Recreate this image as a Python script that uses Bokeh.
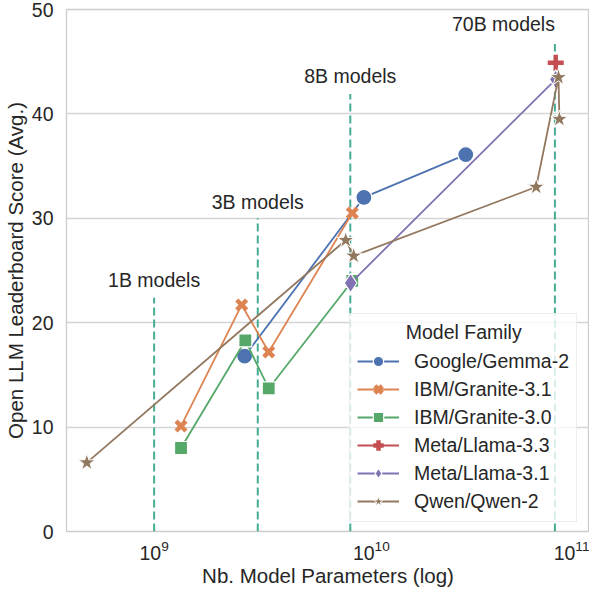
from bokeh.plotting import figure
from bokeh.models import Legend, LegendItem, Range1d, FixedTicker, Label
from bokeh.embed import file_html
from bokeh.resources import INLINE

FONT = "Liberation Sans"
TXT = "#262626"

# ---- data ----
families = ["Google/Gemma-2", "IBM/Granite-3.1", "IBM/Granite-3.0",
            "Meta/Llama-3.3", "Meta/Llama-3.1", "Qwen/Qwen-2"]

gemma_params = [2.61e9, 9.24e9, 2.72e10]
gemma_score = [16.8, 32.0, 36.1]

granite31_params = [1.33e9, 2.53e9, 3.37e9, 8.17e9]
granite31_score = [10.1, 21.7, 17.2, 30.5]

granite30_params = [1.33e9, 2.63e9, 3.37e9, 8.17e9]
granite30_score = [8.0, 18.3, 13.7, 24.0]

llama33_params = [7.06e10]
llama33_score = [44.9]

llama31_params = [8.03e9, 7.06e10]
llama31_score = [23.8, 43.3]

qwen_params = [4.9e8, 7.62e9, 8.29e9, 5.74e10, 7.27e10, 7.34e10]
qwen_score = [6.6, 27.9, 26.4, 33.0, 43.5, 39.5]

size_lines = [1e9, 3e9, 8e9, 7e10]
size_line_tops = [22.4, 30.0, 41.9, 46.7]
size_labels = ["1B models", "3B models", "8B models", "70B models"]
size_label_y = [24.1, 31.6, 43.6, 48.6]
size_label_align = ["center", "center", "center", "right"]

legend_title = "\u00a0" * 9 + "Model Family"

colors = ["#4C72B0", "#DD8452", "#55A868", "#C44E52", "#8172B3", "#937860"]

p = figure(width=589, height=589, x_axis_type="log",
           output_backend="svg", toolbar_location=None,
           min_border_left=56, min_border_right=0,
           min_border_top=9, min_border_bottom=55)
p.x_range = Range1d(3.95e8, 1.01e11)
p.y_range = Range1d(0, 50)

p.background_fill_color = "white"
p.outline_line_color = "#cccccc"
p.outline_line_width = 1.3
p.xgrid.grid_line_color = None
p.ygrid.grid_line_color = "#d5d5d5"
p.ygrid.grid_line_width = 1.3

p.yaxis.ticker = FixedTicker(ticks=[0, 10, 20, 30, 40, 50])
p.xaxis.ticker = FixedTicker(ticks=[1e9, 1e10, 1e11])
for ax in (p.xaxis[0], p.yaxis[0]):
    ax.axis_line_color = None
    ax.major_tick_line_color = None
    ax.minor_tick_line_color = None
    ax.major_tick_out = 0
    ax.major_tick_in = 0
    ax.minor_tick_out = 0
    ax.minor_tick_in = 0
    ax.major_label_text_font = FONT
    ax.major_label_text_font_size = "19.5px"
    ax.major_label_text_color = TXT
    ax.axis_label_text_font = FONT
    ax.axis_label_text_font_size = "20.5px"
    ax.axis_label_text_color = TXT
    ax.axis_label_text_font_style = "normal"
p.yaxis.major_label_standoff = 13
p.xaxis.major_label_standoff = 8
p.xaxis.axis_label = "Nb. Model Parameters (log)"
p.yaxis.axis_label = "Open LLM Leaderboard Score (Avg.)"
p.xaxis.axis_label_standoff = 1
p.yaxis.axis_label_standoff = 2

# vertical size markers
p.segment(x0=size_lines, y0=[0] * 4, x1=size_lines, y1=size_line_tops,
          line_color="#45ab93", line_width=2, line_dash="8 4")
for xv, yv, t, al in zip(size_lines, size_label_y, size_labels, size_label_align):
    p.add_layout(Label(x=xv, y=yv, text=t, text_align=al,
                       text_baseline="middle", text_font=FONT,
                       text_font_size="19.5px", text_color=TXT))

series = [
    (gemma_params, gemma_score, "circle", 16, 1.2),
    (granite31_params, granite31_score, "x", 14, 4.5),
    (granite30_params, granite30_score, "square", 13, 1.2),
    (llama33_params, llama33_score, "cross", 16, 4.5),
    (llama31_params, llama31_score, "diamond", 19, 1.2),
    (qwen_params, qwen_score, "star", 18, 1.0),
]

items = []
for fam, col, (xs, ys, mk, sz, lw) in zip(families, colors, series):
    ln = p.line(xs, ys, line_color=col, line_width=1.8)
    if mk in ("x", "cross"):
        sc = p.scatter(xs, ys, marker=mk, size=sz, line_color=col,
                       line_width=lw)
    else:
        sc = p.scatter(xs, ys, marker=mk, size=sz, fill_color=col,
                       line_color="white", line_width=lw)
    items.append(LegendItem(label=fam, renderers=[ln, sc]))

legend = Legend(items=items, location=(283, 9), title=legend_title)
legend.title_text_font = FONT
legend.title_text_font_size = "19.5px"
legend.title_text_font_style = "normal"
legend.title_text_color = TXT
legend.title_standoff = 4
legend.label_text_font = FONT
legend.label_text_font_size = "19.5px"
legend.label_text_color = TXT
legend.glyph_width = 42
legend.glyph_height = 26
legend.label_height = 26
legend.spacing = 2
legend.label_standoff = 15
legend.padding = 7
legend.margin = 0
legend.background_fill_alpha = 0.8
legend.border_line_color = "#dddddd"
legend.border_line_width = 1.2
p.add_layout(legend, "center")

open("out.html", "w").write(file_html(p, INLINE))
